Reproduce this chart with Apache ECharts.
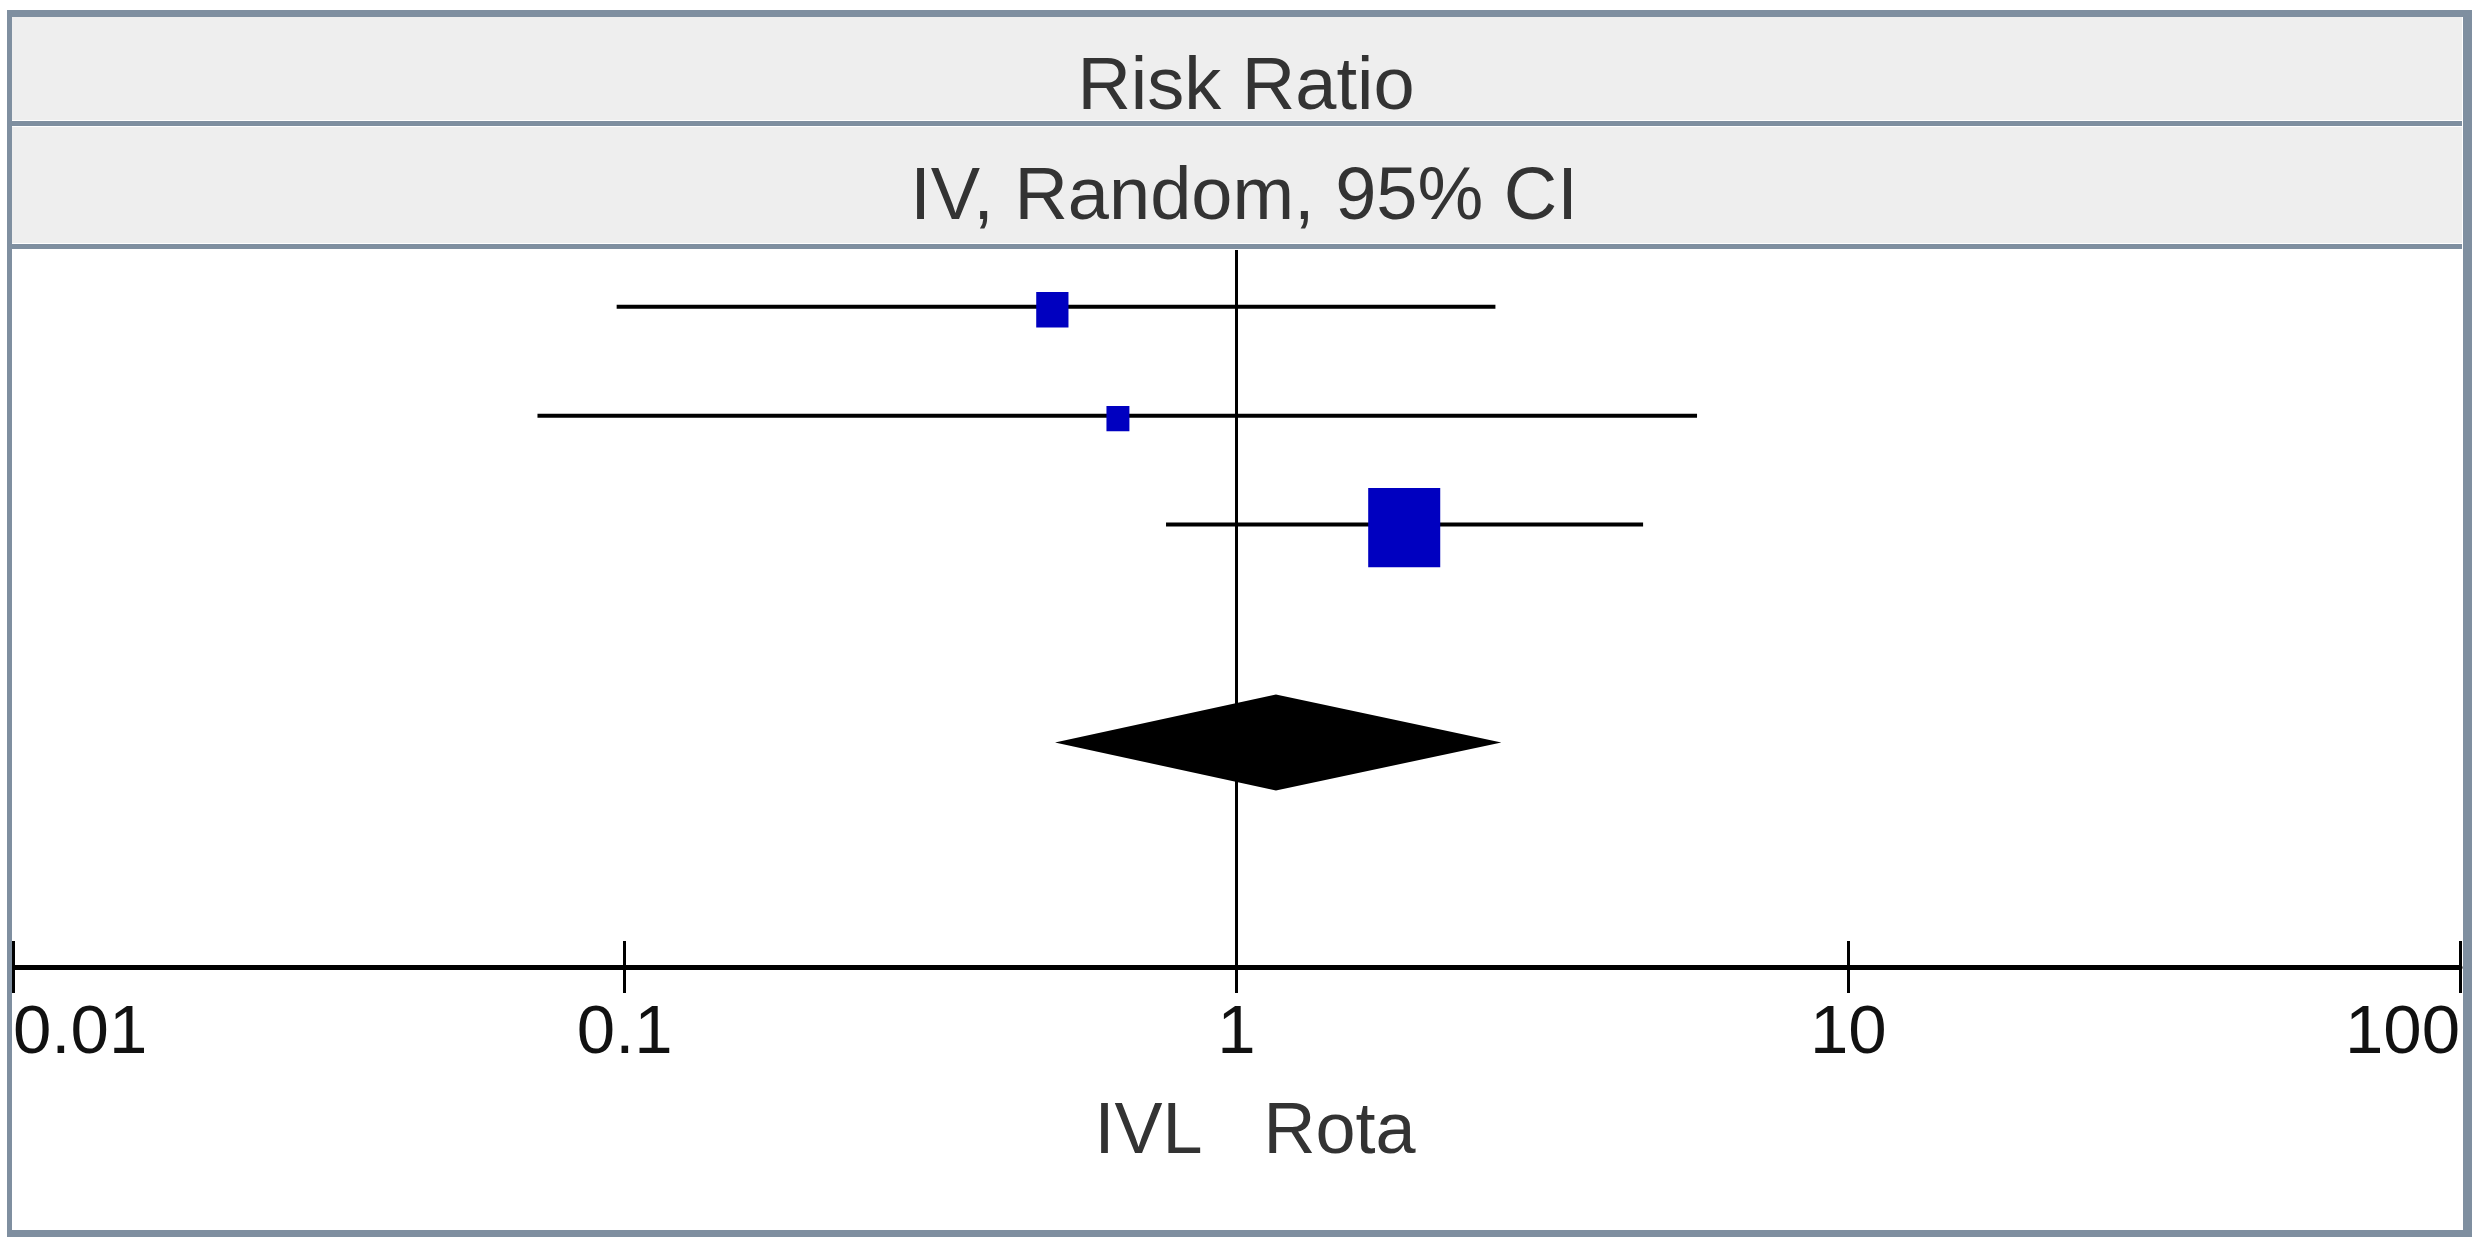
<!DOCTYPE html>
<html>
<head>
<meta charset="utf-8">
<script src="https://cdn.jsdelivr.net/npm/echarts@6/dist/echarts.min.js"></script>
<style>
html,body{margin:0;padding:0;background:#fff;}
#chart{width:2478px;height:1238px;}
</style>
</head>
<body>
<div id="chart"></div>
<script>
// ---- data ----
const headerTitle = 'Risk Ratio';
const headerSub = 'IV, Random, 95% CI';
const favoursLeft = 'IVL';
const favoursRight = 'Rota';
const tickValues = [0.01, 0.1, 1, 10, 100];
const tickLabels = ['0.01', '0.1', '1', '10', '100'];
const studyRows = [0, 1, 2];
const studyRR = [0.50, 0.64, 1.88];
const studyLower = [0.097, 0.072, 0.767];
const studyUpper = [2.65, 5.66, 4.62];
const studyWeight = [15.4, 7.8, 76.8];
const pooledRow = 4;
const pooledRR = 1.16;
const pooledLower = 0.505;
const pooledUpper = 2.71;

const FONT = '"Liberation Sans", Arial, sans-serif';
const BORDER = '#7f8fa0';

const chart = echarts.init(document.getElementById('chart'), null, {renderer: 'canvas'});

const studyData = studyRows.map((r, i) => [studyLower[i], studyUpper[i], studyRR[i], r, studyWeight[i]]);
const pooledData = [[pooledLower, pooledUpper, pooledRR, pooledRow]];

const xAxisBase = {
  type: 'log', logBase: 10,
  min: tickValues[0], max: tickValues[tickValues.length - 1],
  position: 'bottom',
  splitLine: {show: false}
};

const option = {
  backgroundColor: '#ffffff',
  animation: false,
  grid: {left: 13, right: 18, top: 250, bottom: 271, containLabel: false},
  xAxis: [
    Object.assign({}, xAxisBase, {
      axisLine: {show: true, onZero: false, lineStyle: {color: '#000', width: 5}},
      axisTick: {show: true, inside: false, length: 26, lineStyle: {color: '#000', width: 3}},
      axisLabel: {
        show: true, margin: 32, color: '#111', fontSize: 69, fontFamily: FONT,
        alignMinLabel: 'left', alignMaxLabel: 'right',
        formatter: function (v) {
          const idx = tickValues.findIndex(t => Math.abs(Math.log10(t) - Math.log10(v)) < 1e-6);
          return idx >= 0 ? tickLabels[idx] : '';
        }
      }
    }),
    Object.assign({}, xAxisBase, {
      axisLine: {show: false, onZero: false},
      axisTick: {show: true, inside: true, length: 26, lineStyle: {color: '#000', width: 3}},
      axisLabel: {show: false}
    })
  ],
  yAxis: {
    type: 'value', inverse: true, min: -0.52, max: 6.06, show: false,
    splitLine: {show: false}
  },
  series: [
    {
      type: 'custom',
      xAxisIndex: 0, yAxisIndex: 0,
      data: studyData,
      encode: {x: [0, 1, 2], y: 3},
      z: 3,
      renderItem: function (params, api) {
        const y = api.value(3);
        const lo = api.coord([api.value(0), y]);
        const hi = api.coord([api.value(1), y]);
        const c = api.coord([api.value(2), y]);
        const s = 8.22 * Math.sqrt(api.value(4));
        return {
          type: 'group',
          children: [
            {type: 'line', shape: {x1: lo[0], y1: lo[1], x2: hi[0], y2: hi[1]},
             style: {stroke: '#000', lineWidth: 4}},
            {type: 'rect', shape: {x: c[0] - s / 2, y: c[1] - s * 0.55 + 3, width: s, height: s * 1.1},
             style: {fill: '#0000c0'}}
          ]
        };
      },
      markLine: {
        silent: true, symbol: 'none',
        label: {show: false},
        lineStyle: {color: '#000', width: 3, type: 'solid'},
        data: [{xAxis: 1}]
      }
    },
    {
      type: 'custom',
      xAxisIndex: 0, yAxisIndex: 0,
      data: pooledData,
      encode: {x: [0, 1, 2], y: 3},
      z: 4,
      renderItem: function (params, api) {
        const y = api.value(3);
        const lo = api.coord([api.value(0), y]);
        const hi = api.coord([api.value(1), y]);
        const c = api.coord([api.value(2), y]);
        const h = 48;
        return {
          type: 'polygon',
          shape: {points: [[lo[0], lo[1]], [c[0], c[1] - h], [hi[0], hi[1]], [c[0], c[1] + h]]},
          style: {fill: '#000'}
        };
      }
    }
  ]
};

chart.setOption(option);

const px1 = chart.convertToPixel({xAxisIndex: 0}, 1);

chart.setOption({
  graphic: [
    // header panels
    {type: 'rect', z: 1, shape: {x: 12, y: 17, width: 2450, height: 103}, style: {fill: '#eeeeee'}},
    {type: 'rect', z: 1, shape: {x: 12, y: 127, width: 2450, height: 116}, style: {fill: '#eeeeee'}},
    {type: 'rect', z: 2, shape: {x: 12, y: 121, width: 2450, height: 5}, style: {fill: BORDER}},
    {type: 'rect', z: 2, shape: {x: 12, y: 244, width: 2450, height: 5}, style: {fill: BORDER}},
    // frame
    {type: 'rect', z: 5, shape: {x: 7, y: 10, width: 2465, height: 7}, style: {fill: BORDER}},
    {type: 'rect', z: 5, shape: {x: 7, y: 10, width: 5, height: 1227}, style: {fill: BORDER}},
    {type: 'rect', z: 5, shape: {x: 2463, y: 10, width: 9, height: 1227}, style: {fill: BORDER}},
    {type: 'rect', z: 5, shape: {x: 7, y: 1230, width: 2465, height: 7}, style: {fill: BORDER}},
    // header texts
    {type: 'text', z: 3, x: 1246, y: 89,
     style: {text: headerTitle, fill: '#333', font: '74px ' + FONT, align: 'center', verticalAlign: 'middle'}},
    {type: 'text', z: 3, x: 1244, y: 199,
     style: {text: headerSub, fill: '#333', font: '74px ' + FONT, align: 'center', verticalAlign: 'middle'}},
    // favours labels
    {type: 'text', z: 3, x: px1 - 34, y: 1133,
     style: {text: favoursLeft, fill: '#333', font: '72px ' + FONT, align: 'right', verticalAlign: 'middle'}},
    {type: 'text', z: 3, x: px1 + 27, y: 1133,
     style: {text: favoursRight, fill: '#333', font: '72px ' + FONT, align: 'left', verticalAlign: 'middle'}}
  ]
});
</script>
</body>
</html>
